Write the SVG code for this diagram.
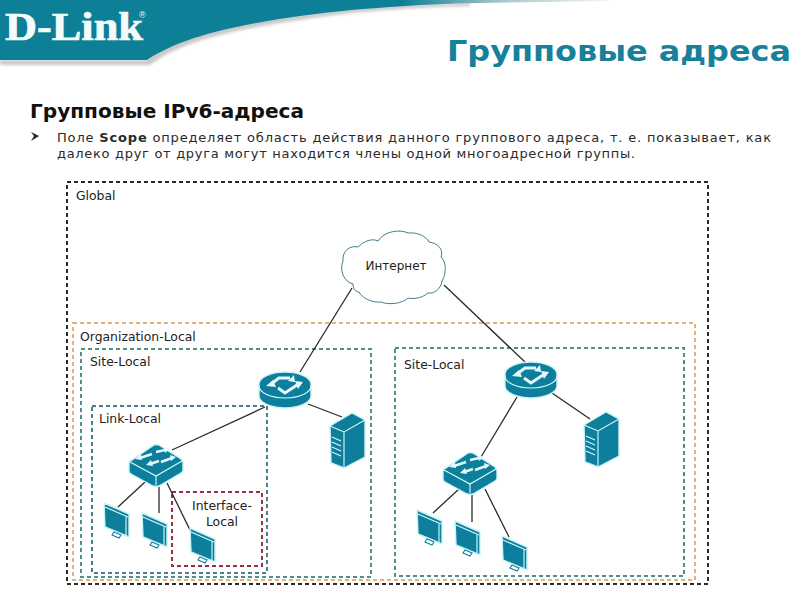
<svg xmlns="http://www.w3.org/2000/svg" width="800" height="599" viewBox="0 0 800 599">
<style>
text{font-family:"DejaVu Sans","Liberation Sans",sans-serif}
.lbl{font-size:12.4px;fill:#222}
.zone{fill:none;stroke-width:2;stroke-dasharray:4 3}
.conn line{stroke:#2a2a2a;stroke-width:1.3}
.lt{fill:none;stroke:#d6fbff;stroke-width:1.1}
.gl{fill:#0d7f9c;stroke:#c8f4f8;stroke-width:1.4;stroke-linejoin:round}
.ar{fill:none;stroke:#e4fbfd;stroke-width:3}
.ah{fill:#e4fbfd}
</style>
<defs>
<filter id="soft" x="-5%" y="-20%" width="110%" height="150%"><feGaussianBlur stdDeviation="1.6"/></filter>
<linearGradient id="sw" x1="0" x2="1" y1="0" y2="0"><stop offset="0" stop-color="#0d7f96"/><stop offset="0.66" stop-color="#0d7f96"/><stop offset="0.82" stop-color="#a6c6cb"/><stop offset="1" stop-color="#f4f4f4"/></linearGradient>
<g id="router">
<path class="gl" d="M-26-6V6A26 12 0 0 0 26 6V-6A26 12 0 0 0-26-6Z"/>
<path class="lt" d="M-26-4A26 12 0 0 0 26-4"/>
<path class="ar" d="M-14-6L-6-12H5M-7-2L0 3 12-5"/>
<path class="ah" d="M-19-4L-12-10-9-3ZM9-15L10-8 3-9ZM18-8L10-9 13-1Z"/>
</g>
<g id="switch">
<path class="gl" d="M-24-5L-2-20Q0-21 3-20L25-6Q27-4 27-2V5Q27 7 25 8L3 21Q0 22-3 21L-25 9Q-27 8-27 6V-2Q-27-4-24-5Z"/>
<path class="lt" d="M-26-3L0 11 26-4M0 11V20"/>
<path class="ar" style="stroke-width:2.4" d="M-16-7L-4-11M0-13L9-15M-6-1L3-4M5-3L16-7"/>
<path class="ah" d="M-21-6L-15-11-14-5ZM14-16L8-18 9-12ZM-10 0L-5-5-3 1ZM20-8L14-10 15-4Z"/>
</g>
<g id="server">
<path class="gl" d="M22 0L0 13 1 50 14 55 35 44V7Z"/>
<path class="lt" d="M0 13L14 19 35 7M14 19V55M2 24L11 28M2 29L11 33M2 34L11 38M2 39L11 43"/>
</g>
<g id="monitor">
<path class="gl" d="M0 0L25 11V34L1 24Z"/>
<path class="lt" d="M1 4L24 14M22 14V32"/>
<path fill="#fff" stroke="#0d7f9c" stroke-width="1.1" d="M10 29L17 32 15 35 8 32Z"/>
</g>
</defs>

<g id="logo">
<path d="M0 60H147C165 38 200 28 233 25C280 16 340 9 400 5L470 3V6C400 8 350 12 300 20C230 30 180 42 150 65H0Z" fill="#777" opacity="0.4" filter="url(#soft)"/>
<path d="M0 0H610V1L480 3C420 4 350 9 300 16C230 26 180 38 147 60H0Z" fill="url(#sw)"/>
<text x="5" y="40" font-size="41" font-weight="700" fill="#f4fbfb" stroke="#f4fbfb" stroke-width="0.7" textLength="138" lengthAdjust="spacingAndGlyphs" style="font-family:'Liberation Serif',serif">D-Link</text>
<text x="139" y="18" font-size="9" fill="#f4fbfb" style="font-family:'Liberation Sans',sans-serif">®</text>
</g>

<text id="title" x="447" y="61" font-size="29" font-weight="700" fill="#17809a" textLength="344" lengthAdjust="spacingAndGlyphs">Групповые адреса</text>
<text id="subtitle" x="30" y="118" font-size="19" font-weight="700" fill="#111" textLength="274" lengthAdjust="spacingAndGlyphs">Групповые IPv6-адреса</text>
<path id="bullet" fill="#222" d="M31 132L39 136 31 141 34 136Z"/>
<text x="57" y="142" font-size="13" fill="#2a2a2a" textLength="714">Поле <tspan font-weight="700">Scope</tspan> определяет область действия данного группового адреса, т. е. показывает, как</text>
<text x="57" y="158" font-size="13" fill="#2a2a2a" textLength="578">далеко друг от друга могут находится члены одной многоадресной группы.</text>

<g id="zones">
<rect id="global" class="zone" x="67" y="182" width="641" height="402" stroke="#2a2a2a"/>
<rect id="org" class="zone" x="73" y="323" width="622" height="257" stroke="#e6b27a"/>
<rect id="site1" class="zone" x="81" y="349" width="290" height="228" stroke="#4f9089"/>
<rect id="site2" class="zone" x="395" y="348" width="289" height="228" stroke="#4f9089"/>
<rect id="link" class="zone" x="92" y="406" width="175" height="167" stroke="#47808f"/>
<rect id="iface" class="zone" x="172" y="492" width="90" height="74" stroke="#9c2d3c"/>
<text class="lbl" x="76" y="200">Global</text>
<text class="lbl" x="80" y="341">Organization-Local</text>
<text class="lbl" x="90" y="366">Site-Local</text>
<text class="lbl" x="404" y="369">Site-Local</text>
<text class="lbl" x="99" y="423">Link-Local</text>
<text class="lbl" x="222" y="510" text-anchor="middle">Interface-</text>
<text class="lbl" x="222" y="526" text-anchor="middle">Local</text>
</g>

<g id="connectors" class="conn">
<line x1="352" y1="288" x2="300" y2="372"/>
<line x1="444" y1="285" x2="525" y2="362"/>
<line x1="308" y1="404" x2="342" y2="417"/>
<line x1="265" y1="407" x2="172" y2="450"/>
<line x1="145" y1="482" x2="118" y2="507"/>
<line x1="159" y1="487" x2="159" y2="513"/>
<line x1="167" y1="483" x2="190" y2="530"/>
<line x1="517" y1="397" x2="481" y2="457"/>
<line x1="552" y1="393" x2="590" y2="419"/>
<line x1="459" y1="489" x2="433" y2="513"/>
<line x1="472" y1="494" x2="472" y2="522"/>
<line x1="485" y1="489" x2="509" y2="537"/>
</g>

<g id="internet">
<path fill="#fff" stroke="#2c6f7c" stroke-width="0.9" d="M353 284C344 282 339 270 343 261C342 251 350 245 358 247C364 241 372 238 378 241C384 231 400 229 408 233C417 232 426 236 429 242C438 243 444 250 441 257C447 262 446 275 442 281C441 289 434 294 428 293C421 299 412 299 408 298C402 304 388 305 381 302C372 303 362 298 359 292C356 292 353 289 353 284Z"/>
<text class="lbl" x="396" y="270" text-anchor="middle" style="font-size:12px">Интернет</text>
</g>
<use id="router-1" href="#router" x="285" y="390"/>
<use id="router-2" href="#router" x="531" y="380"/>
<use id="switch-1" href="#switch" x="156" y="465"/>
<use id="switch-2" href="#switch" x="470" y="473"/>
<use id="server-1" href="#server" x="330" y="413"/>
<use id="server-2" href="#server" x="584" y="412"/>
<use id="pc-1" href="#monitor" x="104" y="503"/>
<use id="pc-2" href="#monitor" x="142" y="513"/>
<use id="pc-3" href="#monitor" x="190" y="528"/>
<use id="pc-4" href="#monitor" x="417" y="510"/>
<use id="pc-5" href="#monitor" x="455" y="521"/>
<use id="pc-6" href="#monitor" x="502" y="536"/>
</svg>
